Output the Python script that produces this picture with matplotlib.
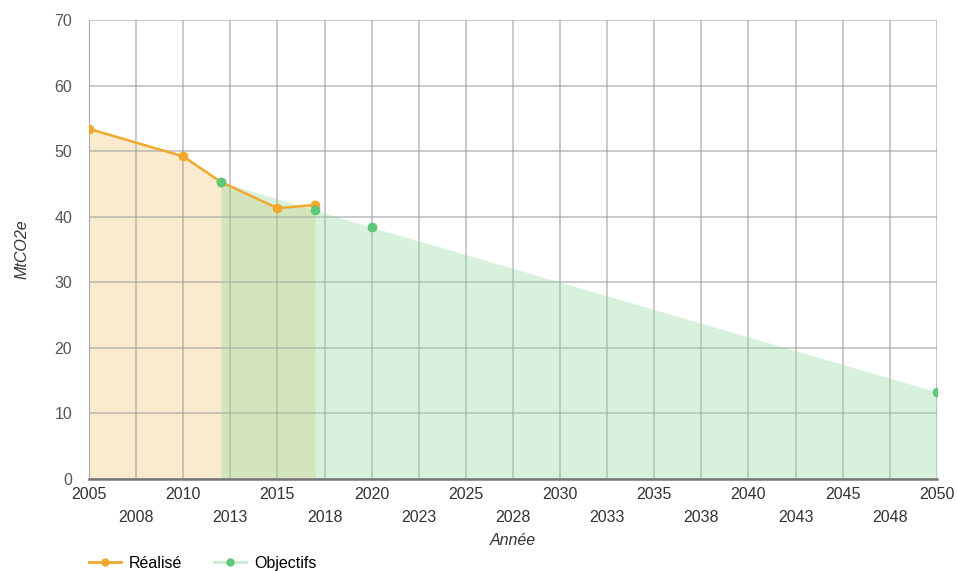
import numpy as np
import matplotlib
matplotlib.use("Agg")
import matplotlib.pyplot as plt
from matplotlib.lines import Line2D

plt.rcParams['font.family'] = ['Liberation Sans', 'DejaVu Sans']

# data
realise_years = [2005, 2010, 2012, 2015, 2017]
realise_vals = [53.4, 49.2, 45.3, 41.3, 41.8]

objectif_years = [2012, 2017, 2020, 2050]
objectif_vals = [45.3, 41.0, 38.4, 13.3]

y_ticks = [0, 10, 20, 30, 40, 50, 60, 70]

orange = '#f0a92e'
green = '#5dc877'
fs = 11.5

fig = plt.figure(figsize=(9.57, 5.71), dpi=100)
ax = fig.add_axes([0.093, 0.161, 0.886, 0.804])

# areas
ax.fill_between(realise_years, realise_vals, 0, color='#f7dba6', alpha=0.55, lw=0, zorder=1)
ax.fill_between(objectif_years, objectif_vals, 0, color='#8fd9a0', alpha=0.35, lw=0, zorder=2)

ax.plot(realise_years, realise_vals, color=orange, lw=1.8, marker='o', ms=6, zorder=4)
ax.plot(objectif_years, objectif_vals, ls='none', marker='o', ms=6, color=green, zorder=5)

ax.set_xlim(2005, 2050)
ax.set_ylim(0, 70)
ax.set_yticks(y_ticks)

major = np.arange(2005, 2051, 5)
minor = np.arange(2007.5, 2050, 5)
ax.set_xticks(major)
ax.set_xticklabels([str(int(v)) for v in major])
ax.set_xticks(minor, minor=True)
ax.set_xticklabels([str(int(np.ceil(v))) for v in minor], minor=True)

ax.tick_params(axis='x', which='major', length=0, pad=6, labelsize=fs, colors='#333333')
ax.tick_params(axis='x', which='minor', length=0, pad=22, labelsize=fs, colors='#333333')
ax.tick_params(axis='y', length=0, pad=12, labelsize=fs, colors='#555555')

ax.grid(True, which='both', color='#999999', alpha=0.6, lw=1.2, zorder=3)
for s in ['top', 'right']:
    ax.spines[s].set_visible(False)
ax.spines['left'].set_color('#aaaaaa')
ax.spines['bottom'].set_color('#777777')
ax.spines['bottom'].set_linewidth(1.8)
ax.spines['bottom'].set_zorder(3)

ax.set_xlabel('Année', style='italic', fontsize=fs, color='#333333', labelpad=6)
ax.set_ylabel('MtCO2e', style='italic', fontsize=fs, color='#333333', labelpad=18)

handles = [
    Line2D([], [], color=orange, lw=2, marker='o', ms=5),
    Line2D([], [], color='#c8ecd0', lw=2, marker='o', ms=5, mfc=green, mec=green),
]
fig.legend(handles, ['Réalisé', 'Objectifs'], loc='lower left', bbox_to_anchor=(0.078, -0.025),
           ncol=2, frameon=False, fontsize=fs, handlelength=2.0, columnspacing=2.0,
           handletextpad=0.5)

fig.savefig('out.png', dpi=100)
